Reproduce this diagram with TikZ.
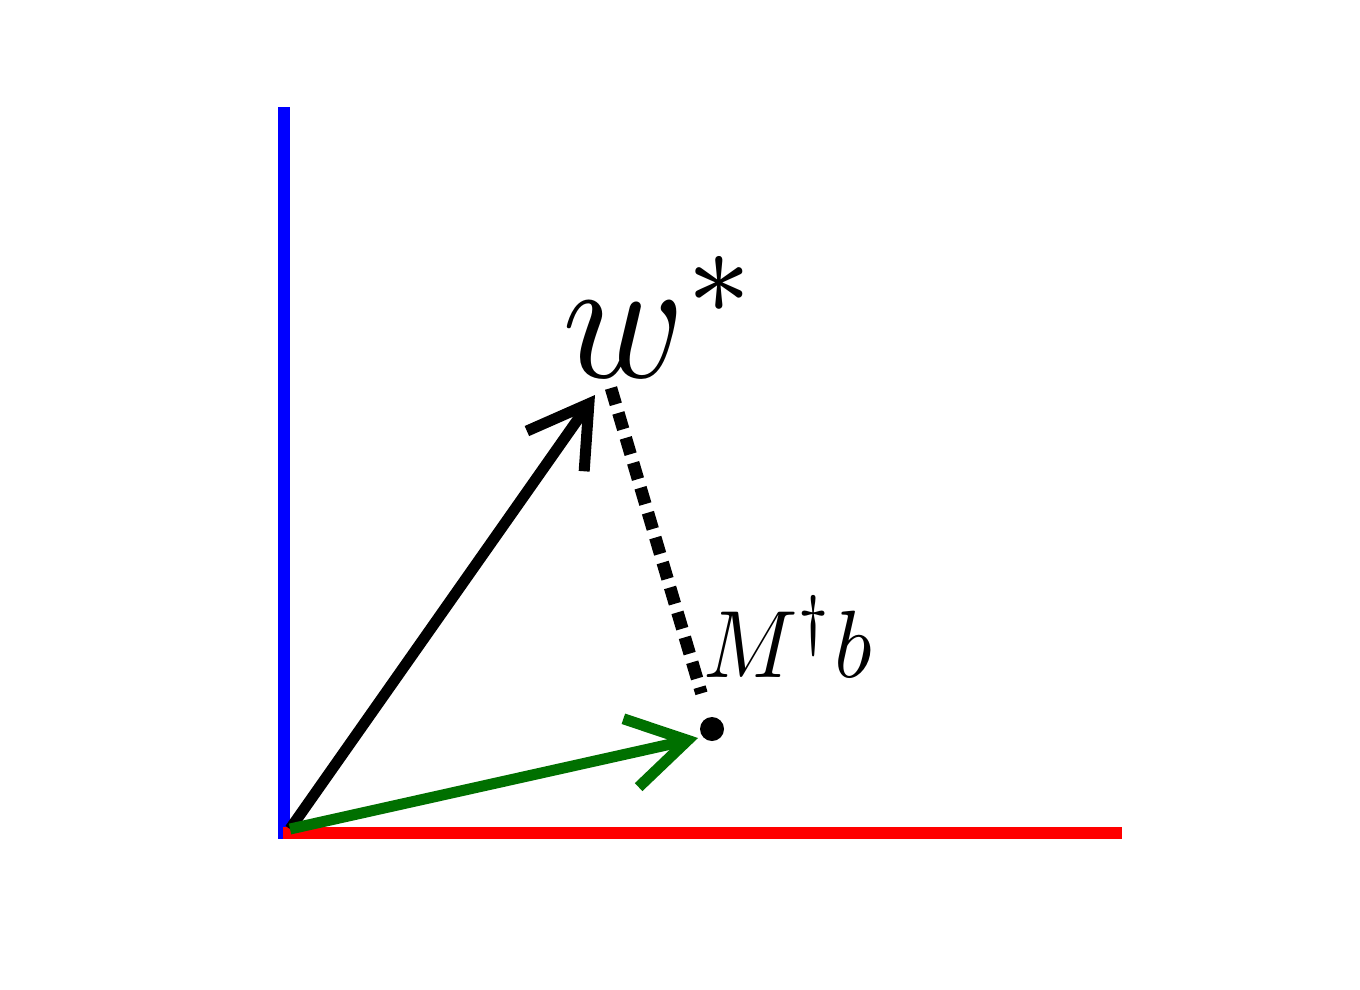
\documentclass[tikz,border=0pt]{standalone}
\usetikzlibrary{arrows.meta}
\definecolor{axblue}{RGB}{0,0,255}
\definecolor{axred}{RGB}{255,0,0}
\definecolor{vgreen}{RGB}{0,112,0}
\begin{document}
\begin{tikzpicture}[x=1bp,y=-1bp,
  axisline/.style={line width=12bp},
  vec/.style={line width=11bp, line join=miter,
    -{Straight Barb[length=58bp,width=70bp,line width=11bp]}},
  dotline/.style={line width=12.5bp, dash pattern=on 17bp off 9bp},
  ptdot/.style={circle, fill=black, inner sep=0pt, minimum size=24bp},
  lbl/.style={inner sep=0pt, anchor=base west}]
\useasboundingbox (0,0) rectangle (1360,989);
\fill[white] (0,0) rectangle (1360,989);
% axes
\coordinate (Ytop) at (284,107);
\coordinate (Ybot) at (284,839);
\coordinate (Xl) at (283,833);
\coordinate (Xr) at (1122,833);
\draw[axisline, axblue] (Ytop) -- (Ybot);
\draw[axisline, axred] (Xl) -- (Xr);
% points
\coordinate (O) at (290,829);
\coordinate (W) at (595,395);
\coordinate (G) at (698,738);
\coordinate (D) at (611,388);
\node[ptdot] (P) at (712,729) {};
% vectors
\draw[vec, black] (O) -- (W);
\draw[vec, vgreen] (O) -- (G);
\draw[dotline] (D) -- (P) [shorten >=25bp];
% labels
\node[lbl] (wl) at (562,377) {\scalebox{16.6}[17.6]{$w^*$}};
\node[lbl] (ml) at (703,677) {\scalebox{8.8}[9.6]{$M^\dagger b$}};
\end{tikzpicture}
\end{document}
